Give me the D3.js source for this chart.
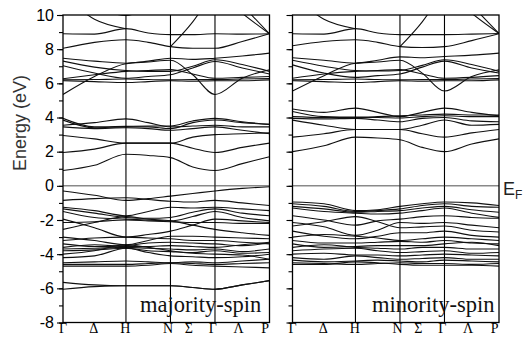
<!DOCTYPE html>
<html><head><meta charset="utf-8">
<script src="https://cdn.jsdelivr.net/npm/d3@7"></script>
<style>body{margin:0;background:#fff}svg{display:block}</style>
</head><body><svg id="c" width="524" height="341"></svg>
<script>
// k-path: Γ, Δ, H, (H-N), N, Σ, Γ, Λ, P
const kPoints = [0, 0.5, 1, 1.3536, 1.7071, 2.0607, 2.4142, 2.8472, 3.2802];
const symLines = [1, 1.7071, 2.4142];
const labelK = [0.0, 0.49, 0.99, 1.67, 2.0, 2.38, 2.79, 3.21];
const labelText = ["Γ", "Δ", "H", "N", "Σ", "Γ", "Λ", "P"];
const yTicks = [-8,-7,-6,-5,-4,-3,-2,-1,0,1,2,3,4,5,6,7,8,9,10];
const yLabels = [-8,-6,-4,-2,0,2,4,6,8,10];
const n = null;

const majorityUpper = [
  [5.35, 6.4, 7.15, 7.25, 7.35, 6.5, 5.35, 6.3, 6.8],
  [6.15, 6.1, 6.05, 6.1, 6.15, 6.12, 6.15, 6.15, 6.2],
  [6.2, 6.22, 6.25, 6.22, 6.2, 6.22, 6.22, 6.25, 6.28],
  [6.27, 6.5, 6.7, 6.75, 6.8, 6.55, 6.3, 6.35, 6.4],
  [7.03, 6.6, 6.3, 6.4, 6.5, 6.9, 7.28, 6.9, 6.55],
  [7.3, 6.95, 6.75, 6.7, 6.7, 7.0, 7.38, 7.1, 6.7],
  [7.47, 7.3, 7.18, 7.3, 7.47, 7.4, 7.47, 7.6, 7.77],
  [8.05, 8.4, 8.55, 8.4, 8.15, 8.05, 8.05, 8.45, 8.9],
  [8.9, 8.88, 9.2, 8.95, 8.85, 8.85, 8.9, 8.88, 8.9],
  [11.2, 9.75, 9.2, n, n, n, n, n, n],
  [n, n, n, n, 8.15, 9.6, 11.5, n, n],
  [n, n, n, n, n, n, 11.5, 10.1, 8.9],
  [n, n, n, n, n, n, 12.5, 10.6, 8.9],
  [n, 10.6, 9.97, 10.6, n, n, n, n, n]
];
const majorityMiddle = [
  [0.9, 1.2, 1.85, 1.78, 1.65, 1.1, 0.9, 1.3, 1.7],
  [1.95, 2.15, 2.5, 2.5, 2.5, 2.2, 1.95, 2.25, 2.5],
  [2.95, 2.75, 2.5, 2.5, 2.5, 2.85, 3.0, 3.05, 3.1],
  [3.45, 3.35, 3.4, 3.35, 3.25, 3.35, 3.45, 3.25, 3.05],
  [3.55, 3.7, 3.92, 3.7, 3.45, 3.5, 3.55, 3.45, 3.45],
  [3.85, 3.4, 3.45, 3.45, 3.35, 3.7, 3.85, 3.7, 3.6],
  [3.95, 3.45, 3.48, 3.5, 3.5, 3.8, 3.95, 3.75, 3.6]
];
const majorityLower = [
  [-0.3, -0.55, -0.85, -0.75, -0.6, -0.45, -0.3, -0.15, -0.05],
  [-0.85, -0.75, -0.7, -0.8, -0.9, -0.95, -0.85, -1.0, -1.15],
  [-1.25, -1.45, -1.75, -1.5, -1.25, -1.3, -1.25, -1.35, -1.45],
  [-1.35, -1.6, -1.85, -1.9, -1.85, -1.55, -1.35, -1.6, -1.75],
  [-1.5, -1.85, -1.95, -2.0, -2.05, -1.8, -1.5, -1.85, -2.05],
  [-1.95, -2.45, -3.0, -2.85, -2.65, -2.3, -1.95, -2.05, -2.15],
  [-2.15, -2.1, -2.0, -2.05, -2.1, -2.15, -2.15, -2.2, -2.2],
  [-2.55, -2.15, -1.8, -1.95, -2.05, -2.3, -2.55, -2.75, -2.9],
  [-3.0, -3.2, -3.45, -3.2, -2.95, -2.95, -3.0, -3.05, -3.1],
  [-3.2, -3.05, -3.0, -3.05, -3.1, -3.2, -3.2, -3.3, -3.4],
  [-3.4, -3.55, -3.5, -3.35, -3.3, -3.35, -3.4, -3.5, -3.35],
  [-3.6, -3.45, -3.55, -3.55, -3.5, -3.55, -3.6, -3.45, -3.3],
  [-3.7, -3.65, -3.6, -3.65, -3.7, -3.75, -3.7, -3.85, -3.7],
  [-3.8, -3.75, -3.65, -3.8, -3.85, -3.9, -3.8, -3.95, -3.9],
  [-4.0, -3.8, -3.45, -3.6, -3.8, -3.95, -4.0, -4.05, -4.3],
  [-4.2, -4.1, -3.65, -3.9, -4.1, -4.15, -4.2, -4.15, -4.0],
  [-4.5, -4.45, -4.4, -4.45, -4.5, -4.45, -4.5, -4.4, -4.3],
  [-4.6, -4.6, -4.6, -4.55, -4.5, -4.55, -4.6, -4.55, -4.5],
  [-4.7, -4.7, -4.7, -4.65, -4.55, -4.65, -4.7, -4.75, -4.8],
  [-5.65, -5.8, -5.85, -5.85, -5.85, -5.95, -6.05, -5.8, -5.55],
  [-6.05, -5.9, -5.85, -5.85, -5.85, -5.95, -6.05, -5.8, -5.55]
];

const minorityUpper = [
  [5.55, 6.45, 7.18, 7.25, 7.35, 6.6, 5.55, 6.4, 6.8],
  [6.15, 6.1, 6.05, 6.1, 6.15, 6.12, 6.15, 6.15, 6.2],
  [6.2, 6.22, 6.25, 6.22, 6.2, 6.22, 6.22, 6.25, 6.28],
  [6.3, 6.55, 6.7, 6.75, 6.8, 6.55, 6.3, 6.35, 6.45],
  [7.08, 6.6, 6.35, 6.45, 6.55, 6.95, 7.3, 6.9, 6.6],
  [7.35, 7.0, 6.75, 6.72, 6.75, 7.05, 7.38, 7.1, 6.7],
  [7.5, 7.35, 7.18, 7.35, 7.55, 7.5, 7.57, 7.65, 7.77],
  [8.2, 8.45, 8.55, 8.4, 8.15, 8.1, 8.15, 8.5, 8.9],
  [8.9, 8.88, 9.2, 8.95, 8.85, 8.85, 8.85, 8.88, 8.92],
  [11.2, 9.75, 9.2, n, n, n, n, n, n],
  [n, n, n, n, 8.15, 9.6, 11.5, n, n],
  [n, n, n, n, n, n, 11.5, 10.1, 8.92],
  [n, n, n, n, n, n, 12.5, 10.6, 8.92]
];
const minorityMiddle = [
  [2.0, 2.35, 2.85, 2.8, 2.7, 2.25, 2.0, 2.45, 2.75],
  [2.85, 3.05, 3.3, 3.3, 3.3, 3.05, 2.85, 3.1, 3.3],
  [3.85, 3.55, 3.3, 3.3, 3.3, 3.55, 3.85, 3.55, 3.6],
  [3.95, 3.92, 3.95, 3.85, 3.75, 3.95, 4.0, 3.8, 3.75],
  [4.05, 4.0, 4.0, 4.0, 3.97, 4.05, 4.1, 4.05, 4.05],
  [4.35, 4.05, 4.02, 4.05, 4.1, 4.15, 4.2, 4.15, 4.15],
  [4.5, 4.3, 4.55, 4.3, 4.05, 4.3, 4.55, 4.3, 4.1]
];
const minorityLower = [
  [-0.95, -1.05, -1.45, -1.4, -1.2, -1.05, -0.95, -1.0, -1.15],
  [-1.05, -1.2, -1.5, -1.45, -1.35, -1.15, -1.05, -1.2, -1.25],
  [-1.2, -1.35, -1.55, -1.5, -1.45, -1.3, -1.2, -1.4, -1.55],
  [-1.3, -1.5, -1.6, -1.65, -1.6, -1.45, -1.3, -1.6, -1.85],
  [-1.75, -2.0, -2.3, -2.05, -1.95, -1.8, -1.75, -1.85, -1.9],
  [-2.15, -2.4, -2.9, -2.6, -2.15, -2.2, -2.15, -2.3, -2.45],
  [-2.35, -2.1, -1.8, -2.1, -2.45, -2.4, -2.35, -2.6, -2.7],
  [-2.65, -2.95, -3.1, -2.95, -2.75, -2.75, -2.65, -2.9, -3.0],
  [-3.0, -2.85, -2.95, -3.05, -3.2, -3.1, -3.0, -3.1, -3.2],
  [-3.2, -3.35, -3.35, -3.3, -3.25, -3.3, -3.2, -3.35, -3.4],
  [-3.4, -3.6, -3.55, -3.5, -3.5, -3.5, -3.4, -3.3, -3.5],
  [-3.6, -3.45, -3.6, -3.65, -3.7, -3.6, -3.6, -3.7, -3.7],
  [-3.8, -3.7, -3.65, -3.8, -3.9, -3.85, -3.8, -3.95, -3.9],
  [-4.0, -3.95, -4.05, -4.05, -4.1, -4.05, -4.0, -4.05, -4.1],
  [-4.2, -4.3, -4.1, -4.2, -4.3, -4.25, -4.2, -4.3, -4.3],
  [-4.35, -4.45, -4.4, -4.35, -4.4, -4.45, -4.35, -4.4, -4.45],
  [-4.5, -4.55, -4.6, -4.55, -4.5, -4.55, -4.55, -4.6, -4.55],
  [-4.6, -4.6, -4.45, -4.5, -4.6, -4.65, -4.65, -4.65, -4.7]
];

const svg = d3.select("#c");
const y = d3.scaleLinear().domain([-8, 10]).range([322.5, 15]);

const panels = [
  {x0: 63, x1: 269.5, bands: majorityUpper.concat(majorityMiddle, majorityLower), label: "majority-spin", labelX: 140, showLabels: true},
  {x0: 292.5, x1: 499, bands: minorityUpper.concat(minorityMiddle, minorityLower), label: "minority-spin", labelX: 372, showLabels: false}
];

panels.forEach((p, i) => {
  const x = d3.scaleLinear().domain([0, kPoints[kPoints.length - 1]]).range([p.x0, p.x1]);
  const g = svg.append("g");
  const clipId = "clip" + i;
  svg.append("clipPath").attr("id", clipId).append("rect")
    .attr("x", p.x0).attr("y", y(10)).attr("width", p.x1 - p.x0).attr("height", y(-8) - y(10));

  const line = d3.line()
    .defined(d => d != null)
    .x((d, j) => x(kPoints[j]))
    .y(d => y(d))
    .curve(d3.curveMonotoneX);

  const bg = g.append("g").attr("clip-path", `url(#${clipId})`);
  p.bands.forEach(b => {
    bg.append("path").attr("d", line(b)).attr("fill", "none")
      .attr("stroke", "#111").attr("stroke-width", 1.1);
  });

  // symmetry lines
  g.selectAll(".sym").data(symLines).enter().append("line")
    .attr("x1", d => x(d)).attr("x2", d => x(d))
    .attr("y1", y(10)).attr("y2", y(-8))
    .attr("stroke", "#000").attr("stroke-width", 1.1);

  // Fermi level
  g.append("line").attr("x1", p.x0).attr("x2", p.x1).attr("y1", y(0)).attr("y2", y(0))
    .attr("stroke", "#222").attr("stroke-width", 0.8);

  // frame
  g.append("rect").attr("x", p.x0).attr("y", y(10)).attr("width", p.x1 - p.x0)
    .attr("height", y(-8) - y(10)).attr("fill", "none").attr("stroke", "#000").attr("stroke-width", 1.3);

  // minor ticks
  const minor = d3.axisLeft(y).tickValues(yTicks).tickSize(4).tickSizeOuter(0).tickFormat("");
  const ga = g.append("g").attr("transform", `translate(${p.x0},0)`).call(minor);
  ga.select(".domain").remove();
  ga.selectAll("line").attr("stroke-width", 1.1);
  const major = d3.axisLeft(y).tickValues(yLabels).tickSize(6).tickSizeOuter(0).tickPadding(3)
    .tickFormat(d => p.showLabels ? String(d) : "");
  const gm = g.append("g").attr("transform", `translate(${p.x0},0)`).call(major);
  gm.select(".domain").remove();
  gm.selectAll("line").attr("stroke-width", 1.1);
  gm.selectAll("text").attr("font-family", "Liberation Sans, Arial, sans-serif")
    .attr("font-size", 16).attr("fill", "#000");

  // k labels
  g.selectAll(".kl").data(labelText).enter().append("text")
    .attr("x", (d, j) => x(labelK[j])).attr("y", 333)
    .attr("text-anchor", "middle")
    .attr("font-family", "Liberation Serif, Times New Roman, serif")
    .attr("font-size", 14).attr("fill", "#000").text(d => d);

  // spin label
  g.append("text").attr("x", p.labelX).attr("y", 312)
    .attr("font-family", "Liberation Serif, Times New Roman, serif")
    .attr("font-size", 22.5).attr("fill", "#111").text(p.label);
});

svg.append("text").attr("transform", "translate(26,123) rotate(-90)")
  .attr("text-anchor", "middle")
  .attr("font-family", "Liberation Sans, Arial, sans-serif")
  .attr("font-size", 18).attr("fill", "#333").text("Energy (eV)");

const ef = svg.append("text").attr("x", 503).attr("y", 195)
  .attr("font-family", "Liberation Sans, Arial, sans-serif")
  .attr("font-size", 18).attr("fill", "#222");
ef.append("tspan").text("E");
ef.append("tspan").attr("dy", 4).attr("font-size", 12).text("F");
</script>
</body></html>
